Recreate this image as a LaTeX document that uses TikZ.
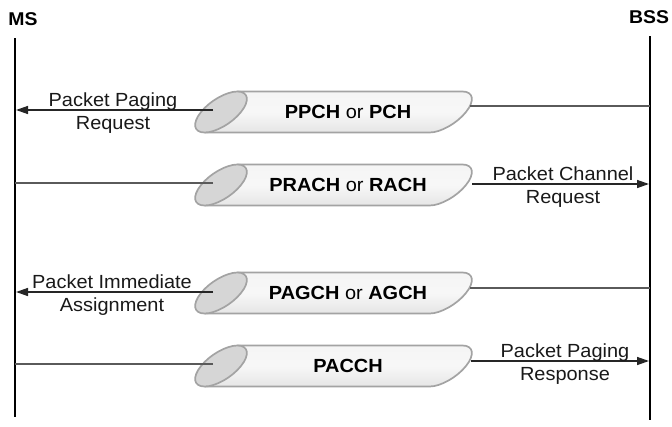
\documentclass[tikz,border=0pt]{standalone}
\usepackage{fontspec}
\setmainfont[FakeStretch=1.05]{Liberation Sans}
\usetikzlibrary{arrows.meta}
\definecolor{edgegray}{HTML}{A3A3A3}
\definecolor{endgray}{HTML}{D6D6D6}
\definecolor{conngray}{HTML}{5A5A5A}
\tikzset{
  lbl/.style={font=\fontsize{19}{22.5}\selectfont, align=center, inner sep=0pt, text=black!90},
  chan/.style={font=\fontsize{19}{22}\selectfont, inner sep=0pt, text=black},
  ent/.style={font=\bfseries\fontsize{18.5}{22}\selectfont, inner sep=0pt},
  lifeline/.style={line width=2.5pt, black},
  conn/.style={line width=1.4pt, conngray},
  arr/.style={conn, -{Triangle[length=12pt,width=8pt]}, black!85},
  tubebody/.style={top color=gray!8, bottom color=gray!20, middle color=gray!6},
  tubeedge/.style={draw=edgegray, line width=1.7pt, line join=round},
  tubeend/.style={fill=endgray, draw=edgegray, line width=1.7pt},
}
\newcommand{\drawtube}[3]{%
  \begin{scope}[shift={(221,#2)}, xslant=0.8]
    \path[tubebody] (0,-20.5) -- (225,-20.5)
      arc[start angle=90, end angle=-90, x radius=20pt, y radius=20.5pt]
      -- (0,20.5) -- cycle;
    \draw[tubeedge] (0,-20.5) -- (225,-20.5)
      arc[start angle=90, end angle=-90, x radius=20pt, y radius=20.5pt]
      -- (0,20.5);
    \filldraw[tubeend] (0,0) ellipse[x radius=20pt, y radius=20.5pt];
  \end{scope}
  \node[chan] (#1) at (348,#2) {#3};}
\begin{document}
\begin{tikzpicture}[x=1pt, y=-1pt]
\useasboundingbox (0,0) rectangle (672,426);
\fill[white] (0,0) rectangle (672,426);

% entities
\node[ent] (ms) at (23,19) {MS};
\node[ent] (bss) at (649,17) {BSS};
\coordinate (msTop) at (15,38);
\coordinate (msBot) at (15,417);
\coordinate (bssTop) at (650,36);
\coordinate (bssBot) at (650,420);
\draw[lifeline] (msTop) -- (msBot);
\draw[lifeline] (bssTop) -- (bssBot);

% channels
\drawtube{ch1}{112}{\textbf{PPCH} or \textbf{PCH}}
\drawtube{ch2}{185}{\textbf{PRACH} or \textbf{RACH}}
\drawtube{ch3}{293}{\textbf{PAGCH} or \textbf{AGCH}}
\drawtube{ch4}{366}{\textbf{PACCH}}

% attachment points
\coordinate (c1l) at (213,110);  \coordinate (m1) at (16,110);
\coordinate (c1r) at (470,106);  \coordinate (b1) at (650,106);
\coordinate (c2l) at (213,183);  \coordinate (m2) at (15,183);
\coordinate (c2r) at (472,184);  \coordinate (b2) at (649,184);
\coordinate (c3l) at (213,292);  \coordinate (m3) at (16,292);
\coordinate (c3r) at (470,288);  \coordinate (b3) at (650,288);
\coordinate (c4l) at (213,364);  \coordinate (m4) at (15,364);
\coordinate (c4r) at (471,361);  \coordinate (b4) at (649,361);

% connectors
\draw[arr] (c1l) -- (m1);
\draw[conn] (c1r) -- (b1);
\draw[conn] (c2l) -- (m2);
\draw[arr] (c2r) -- (b2);
\draw[arr] (c3l) -- (m3);
\draw[conn] (c3r) -- (b3);
\draw[conn] (c4l) -- (m4);
\draw[arr] (c4r) -- (b4);

% labels
\node[lbl] (l1) at (113,113) {Packet Paging\\Request};
\node[lbl] (l2) at (563,187) {Packet Channel\\Request};
\node[lbl] (l3) at (112,295) {Packet Immediate\\Assignment};
\node[lbl] (l4) at (565,364) {Packet Paging\\Response};
\end{tikzpicture}
\end{document}
